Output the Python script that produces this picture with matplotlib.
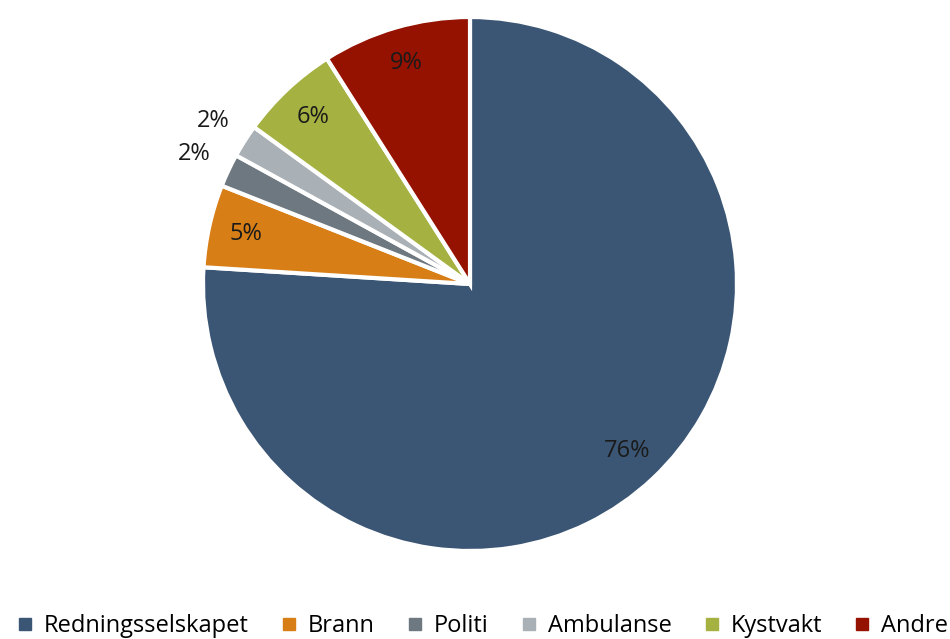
import matplotlib
matplotlib.use("Agg")
import matplotlib.pyplot as plt
import numpy as np
from matplotlib.lines import Line2D

categories = ["Redningsselskapet", "Brann", "Politi", "Ambulanse", "Kystvakt", "Andre"]
values = [76, 5, 2, 2, 6, 9]
colors = ["#3B5674", "#D77E17", "#6E7880", "#A9B0B6", "#A5B242", "#951100"]
outside = [False, False, True, True, False, False]

plt.rcParams['font.family'] = ['Open Sans', 'DejaVu Sans']

fig = plt.figure(figsize=(9.5, 6.39), dpi=100)
W, H = 950, 639
cx, cy, r = 470, 284, 267
ax = fig.add_axes([(cx - r) / W, (H - cy - r) / H, 2 * r / W, 2 * r / H])

wedges, _ = ax.pie(values, colors=colors, startangle=90, counterclock=False,
                   radius=1.0, wedgeprops=dict(edgecolor='white', linewidth=3))
ax.set_xlim(-1, 1)
ax.set_ylim(-1, 1)
ax.axis('off')
for w, v, out in zip(wedges, values, outside):
    mid = np.deg2rad((w.theta1 + w.theta2) / 2)
    d = 1.14 if out else 0.86
    ax.text(d * np.cos(mid), d * np.sin(mid), f"{v}%", ha='center', va='center',
            fontsize=17, color='#1a1a1a', clip_on=False)

handles = [Line2D([], [], marker='s', linestyle='none', markersize=8,
                  markerfacecolor=c, markeredgecolor=c) for c in colors]
fig.legend(handles, categories, loc='center left', bbox_to_anchor=(4 / W, 1 - 626 / H),
           ncol=6, frameon=False, fontsize=17, handletextpad=0.3, columnspacing=1.2,
           handlelength=1.0, borderaxespad=0)

fig.savefig("out.png", dpi=100)
